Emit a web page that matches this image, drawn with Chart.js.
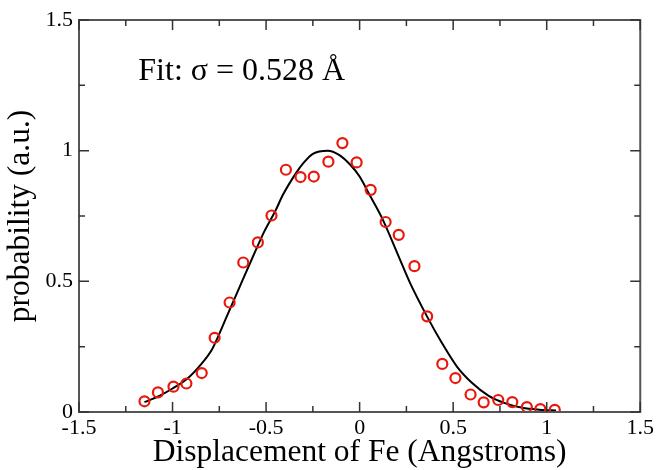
<!DOCTYPE html>
<html>
<head>
<meta charset="utf-8">
<script src="https://cdn.jsdelivr.net/npm/chart.js@4"></script>
<style>
  html, body { margin: 0; padding: 0; background: #fff; }
  #wrap { width: 657px; height: 470px; }
</style>
</head>
<body>
<div id="wrap"><canvas id="grafico" width="657" height="470"></canvas></div>
<script>
// data
const pontosX = [-1.150, -1.078, -0.995, -0.926, -0.844, -0.775, -0.695, -0.622, -0.544, -0.471,
                 -0.394, -0.316, -0.245, -0.167, -0.092, -0.016, 0.059, 0.139, 0.209, 0.293,
                 0.361, 0.442, 0.512, 0.593, 0.663, 0.741, 0.816, 0.894, 0.966, 1.043];
const pontosY = [0.041, 0.075, 0.097, 0.109, 0.149, 0.284, 0.419, 0.572, 0.649, 0.752,
                 0.927, 0.899, 0.901, 0.958, 1.029, 0.955, 0.850, 0.727, 0.678, 0.558,
                 0.366, 0.184, 0.130, 0.067, 0.037, 0.046, 0.038, 0.019, 0.011, 0.008];

const ajusteX = [-1.15, -1.07, -1.0, -0.92, -0.85, -0.79, -0.76, -0.71, -0.64, -0.57,
                 -0.51, -0.45, -0.41, -0.34, -0.30, -0.25, -0.17, -0.11, -0.05, 0.0,
                 0.05, 0.12, 0.20, 0.27, 0.36, 0.44, 0.52, 0.60, 0.69, 0.78,
                 0.87, 0.96, 1.05];
const ajusteY = [0.038, 0.062, 0.090, 0.128, 0.180, 0.238, 0.283, 0.366, 0.481, 0.595,
                 0.690, 0.770, 0.831, 0.914, 0.953, 0.988, 1.000, 0.984, 0.946, 0.901,
                 0.835, 0.742, 0.610, 0.493, 0.366, 0.264, 0.174, 0.112, 0.062, 0.033,
                 0.016, 0.009, 0.006];

const ticksX = [-1.5, -1, -0.5, 0, 0.5, 1, 1.5];
const ticksY = [0, 0.5, 1, 1.5];
const menoresX = [-1.25, -0.75, -0.25, 0.25, 0.75, 1.25];
const menoresY = [0.25, 0.75, 1.25];

const textoFit = 'Fit: \u03C3 = 0.528 \u00C5';
const posFit = { x: -1.183, y: 1.27 };

const fonte = '"Liberation Serif", "DejaVu Serif", serif';

function pares(xs, ys) {
    return xs.map((x, i) => ({ x: x, y: ys[i] }));
}

// frame + inward ticks on all four sides, and the fit label
const moldura = {
    id: 'moldura',
    afterDatasetsDraw(chart) {
        const ctx = chart.ctx;
        const a = chart.chartArea;
        const sx = chart.scales.x;
        const sy = chart.scales.y;
        ctx.save();
        ctx.strokeStyle = '#555';
        ctx.lineWidth = 2;
        ctx.strokeRect(a.left, a.top, a.right - a.left, a.bottom - a.top);

        ctx.lineWidth = 1.5;
        ctx.strokeStyle = '#333';
        ctx.beginPath();
        ticksX.forEach(v => {
            const p = sx.getPixelForValue(v);
            ctx.moveTo(p, a.bottom); ctx.lineTo(p, a.bottom - 10);
            ctx.moveTo(p, a.top); ctx.lineTo(p, a.top + 10);
        });
        menoresX.forEach(v => {
            const p = sx.getPixelForValue(v);
            ctx.moveTo(p, a.bottom); ctx.lineTo(p, a.bottom - 6);
            ctx.moveTo(p, a.top); ctx.lineTo(p, a.top + 6);
        });
        ticksY.forEach(v => {
            const p = sy.getPixelForValue(v);
            ctx.moveTo(a.left, p); ctx.lineTo(a.left + 10, p);
            ctx.moveTo(a.right, p); ctx.lineTo(a.right - 10, p);
        });
        menoresY.forEach(v => {
            const p = sy.getPixelForValue(v);
            ctx.moveTo(a.left, p); ctx.lineTo(a.left + 6, p);
            ctx.moveTo(a.right, p); ctx.lineTo(a.right - 6, p);
        });
        ctx.stroke();

        ctx.fillStyle = '#000';
        ctx.font = '32px ' + fonte;
        ctx.textAlign = 'left';
        ctx.textBaseline = 'alphabetic';
        ctx.fillText(textoFit, sx.getPixelForValue(posFit.x), sy.getPixelForValue(posFit.y));
        ctx.restore();
    }
};

const ctx = document.getElementById('grafico').getContext('2d');
new Chart(ctx, {
    type: 'scatter',
    data: {
        datasets: [
            {
                label: 'fit',
                data: pares(ajusteX, ajusteY),
                showLine: true,
                borderColor: '#000',
                borderWidth: 2,
                pointRadius: 0,
                cubicInterpolationMode: 'monotone',
                fill: false,
                order: 2
            },
            {
                label: 'data',
                data: pares(pontosX, pontosY),
                showLine: false,
                pointStyle: 'circle',
                pointRadius: 5,
                pointBorderWidth: 2.2,
                pointBorderColor: '#e8180c',
                pointBackgroundColor: 'rgba(0,0,0,0)',
                order: 1
            }
        ]
    },
    options: {
        responsive: false,
        animation: false,
        layout: { padding: { top: 20, right: 15, left: 0, bottom: 0 } },
        plugins: {
            legend: { display: false },
            tooltip: { enabled: false }
        },
        scales: {
            x: {
                type: 'linear',
                min: -1.5,
                max: 1.5,
                afterFit: s => { s.height = 58; },
                afterBuildTicks: s => { s.ticks = ticksX.map(v => ({ value: v })); },
                grid: { display: false, drawTicks: false },
                border: { display: false },
                ticks: {
                    color: '#000',
                    padding: 3,
                    maxRotation: 0,
                    font: { family: fonte, size: 22 },
                    callback: v => String(v)
                },
                title: {
                    display: true,
                    text: 'Displacement of Fe (Angstroms)',
                    color: '#000',
                    font: { family: fonte, size: 31.5 },
                    padding: { top: -6, bottom: -2 }
                }
            },
            y: {
                type: 'linear',
                min: 0,
                max: 1.5,
                afterFit: s => { s.width = 79; },
                afterBuildTicks: s => { s.ticks = ticksY.map(v => ({ value: v })); },
                grid: { display: false, drawTicks: false },
                border: { display: false },
                ticks: {
                    color: '#000',
                    padding: 6,
                    font: { family: fonte, size: 22 },
                    callback: v => String(v)
                },
                title: {
                    display: true,
                    text: 'probability (a.u.)',
                    color: '#000',
                    font: { family: fonte, size: 31.5 },
                    padding: { top: 2, bottom: 0 }
                }
            }
        }
    },
    plugins: [moldura]
});
</script>
</body>
</html>
